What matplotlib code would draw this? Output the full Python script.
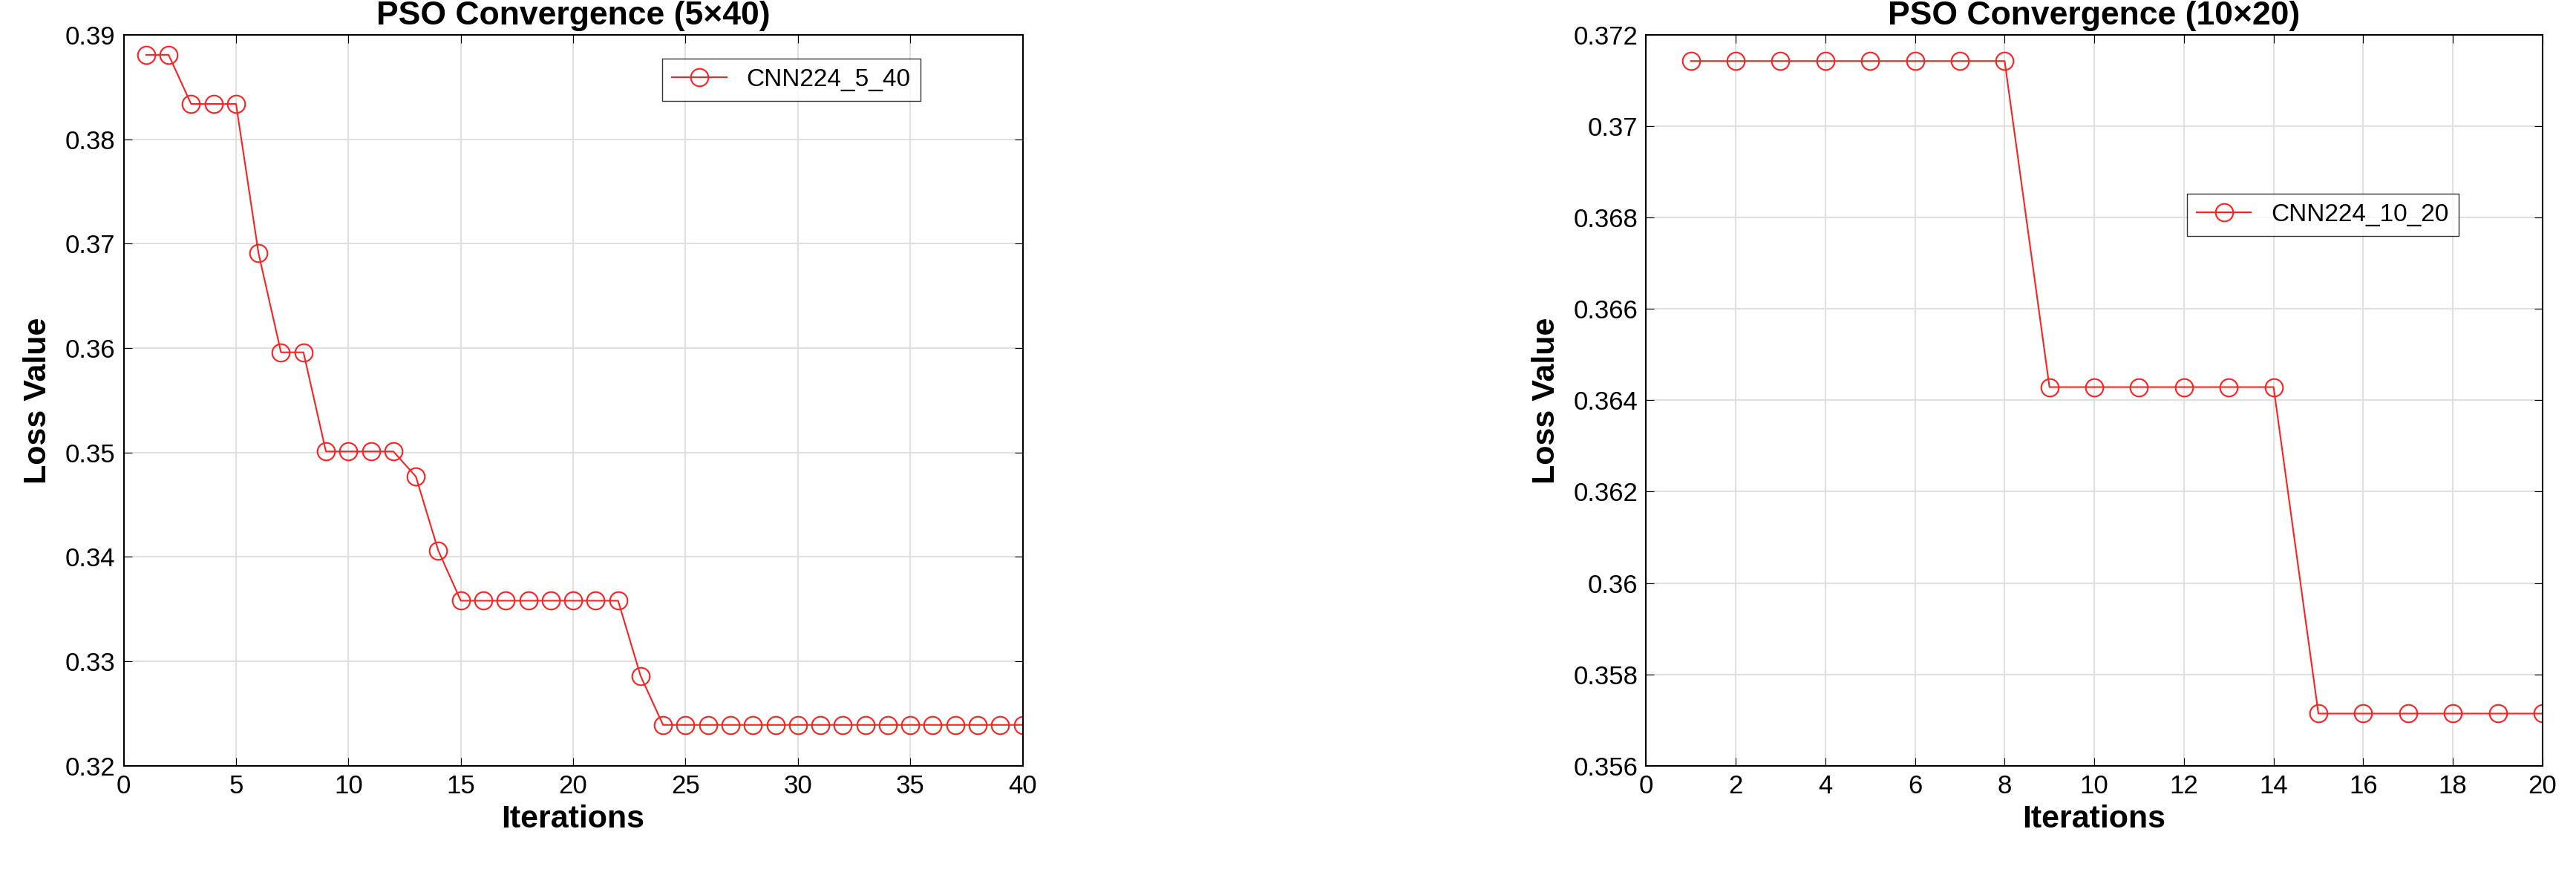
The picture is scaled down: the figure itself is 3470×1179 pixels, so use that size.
import matplotlib.pyplot as plt

# convergence curves
iters_a = list(range(1, 41))
loss_a = [0.3881, 0.3881, 0.3834, 0.3834, 0.3834, 0.3691, 0.3596, 0.3596, 0.3501, 0.3501,
          0.3501, 0.3501, 0.3477, 0.3406, 0.3358, 0.3358, 0.3358, 0.3358, 0.3358, 0.3358,
          0.3358, 0.3358, 0.3286] + [0.3239] * 17
iters_b = list(range(1, 21))
loss_b = [0.37143] * 8 + [0.36429] * 6 + [0.35714] * 6

plt.rcParams['font.family'] = ['Arial', 'Liberation Sans', 'DejaVu Sans']
fig = plt.figure(figsize=(34.7, 11.79), dpi=100)
ax1 = fig.add_axes([0.048, 0.125, 0.349, 0.835])
ax2 = fig.add_axes([0.639, 0.125, 0.348, 0.835])

def style(ax, title):
    ax.grid(True, color='#e0e0e0', linewidth=1.5)
    ax.set_axisbelow(True)
    ax.tick_params(labelsize=25, direction='in', length=8, top=True, right=True, pad=8)
    ax.set_xlabel('Iterations', fontsize=31, fontweight='bold', labelpad=6)
    ax.set_ylabel('Loss Value', fontsize=31, fontweight='bold', labelpad=12)
    ax.set_title(title, fontsize=32, fontweight='bold', pad=10)
    for s in ax.spines.values():
        s.set_linewidth(1.5)

ax1.plot(iters_a, loss_a, color='#ff2020', marker='o', markersize=17, mfc='none',
         mew=1.5, linewidth=1.5, label='CNN224_5_40')
ax1.set_xlim(0, 40)
ax1.set_ylim(0.32, 0.39)
ax1.set_xticks(range(0, 41, 5))
ax1.set_yticks([0.32, 0.33, 0.34, 0.35, 0.36, 0.37, 0.38, 0.39])
ax1.set_yticklabels(['0.32', '0.33', '0.34', '0.35', '0.36', '0.37', '0.38', '0.39'])
style(ax1, 'PSO Convergence (5×40)')
ax1.legend(loc='upper right', bbox_to_anchor=(0.9, 0.985), fontsize=24, fancybox=False,
           edgecolor='black', handlelength=2.2)

ax2.plot(iters_b, loss_b, color='#ff2020', marker='o', markersize=17, mfc='none',
         mew=1.5, linewidth=1.5, label='CNN224_10_20')
ax2.set_xlim(0, 20)
ax2.set_ylim(0.356, 0.372)
ax2.set_xticks(range(0, 21, 2))
ax2.set_yticks([0.356, 0.358, 0.36, 0.362, 0.364, 0.366, 0.368, 0.37, 0.372])
ax2.set_yticklabels(['0.356', '0.358', '0.36', '0.362', '0.364', '0.366', '0.368', '0.37', '0.372'])
style(ax2, 'PSO Convergence (10×20)')
ax2.legend(loc='upper right', bbox_to_anchor=(0.92, 0.80), fontsize=24, fancybox=False,
           edgecolor='black', handlelength=2.2)

fig.savefig('out.png', dpi=100)
